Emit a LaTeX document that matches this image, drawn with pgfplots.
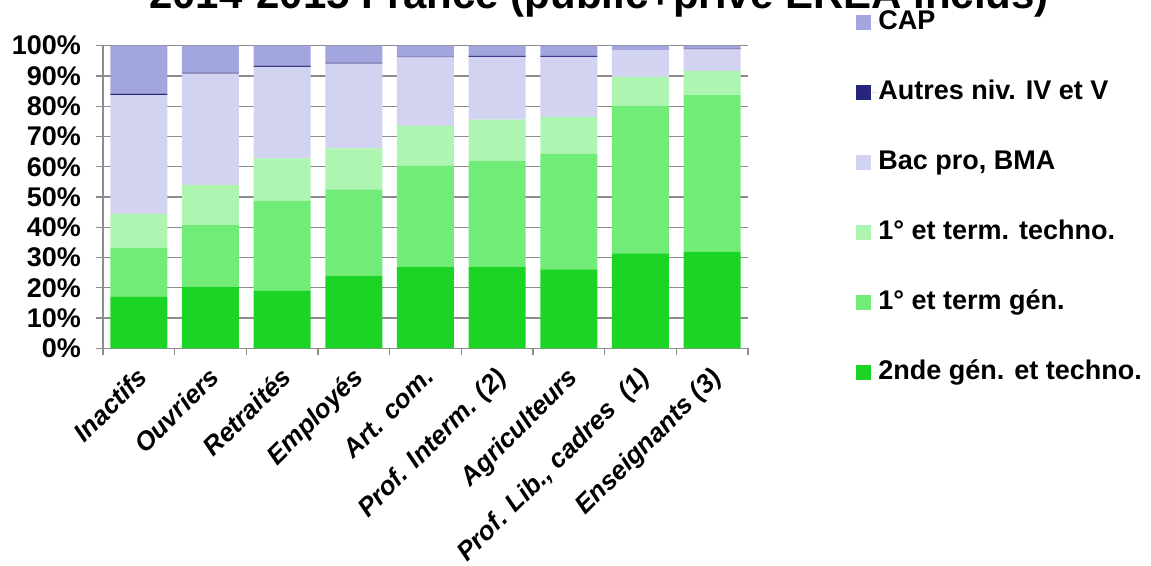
\documentclass[border=0pt]{standalone}
\usepackage{fontspec}
\setmainfont{Liberation Sans}
\usepackage{pgfplots}
\usepackage{pgfplotstable}
\pgfplotsset{compat=1.18}

\definecolor{cSec}{RGB}{28,212,38}
\definecolor{cGen}{RGB}{114,236,120}
\definecolor{cTech}{RGB}{173,245,176}
\definecolor{cBac}{RGB}{209,211,240}
\definecolor{cAutres}{RGB}{38,38,122}
\definecolor{cCap}{RGB}{163,165,223}
\definecolor{gridgray}{RGB}{140,140,140}

% parts in %, bottom to top of each bar
\pgfplotstableread{
x sec  gen  tech bac  autres cap
0 17.0 16.2 11.2 39.3 0.5 15.8
1 20.4 20.3 13.3 36.8 0.3 8.9
2 19.0 29.8 14.0 30.2 0.4 6.6
3 24.0 28.5 13.6 28.0 0.3 5.6
4 26.8 33.5 13.2 22.6 0.3 3.6
5 26.8 35.2 13.6 20.7 0.3 3.4
6 26.1 38.1 12.3 19.8 0.3 3.4
7 31.4 48.8 9.5  8.8  0.0 1.5
8 31.9 51.8 8.0  7.1  0.2 1.0
}\parts

\begin{document}
\begin{tikzpicture}
\begin{axis}[
    at={(0pt,0pt)}, anchor=south west,
    scale only axis,
    width=322.5pt, height=151.3pt,
    ybar stacked, bar width=28.5pt,
    xmin=-0.5, xmax=8.5,
    ymin=0, ymax=100,
    axis x line*=bottom, axis y line*=left,
    axis line style={draw=gridgray, line width=0.7pt, -},
    ymajorgrids,
    major grid style={draw=gridgray, line width=0.65pt},
    tick style={draw=gridgray, line width=0.7pt},
    tick align=outside,
    major tick length=3.5pt, minor tick length=3.5pt,
    xtick={0,...,8},
    major x tick style={draw=none},
    minor xtick={-0.5,0.5,...,8.5},
    xticklabels={Inactifs, Ouvriers, Retraités, Employés, Art. com.,
      Prof. Interm. (2), Agriculteurs, {Prof. Lib., cadres\ \ (1)},
      Enseignants (3)},
    x tick label style={xshift=-1.5pt, yshift=-3.5pt, rotate=45,
      anchor=north east, inner sep=1pt,
      font=\fontsize{13}{15}\selectfont\bfseries\itshape},
    ytick={0,10,...,100},
    yticklabels={0\%,10\%,20\%,30\%,40\%,50\%,60\%,70\%,80\%,90\%,100\%},
    y tick label style={xshift=-4pt, font=\fontsize{13.5}{15}\selectfont\bfseries},
    legend style={at={(axis description cs:1.1674,1.1203)}, anchor=north west,
      draw=none, fill=none, inner sep=0pt, row sep=22pt,
      font=\fontsize{13.5}{16}\selectfont\bfseries,
      nodes={inner sep=0pt, text height=10pt, text depth=3pt}},
    legend cell align=left,
    reverse legend,
    legend image code/.code={
      \fill[#1] (0pt,-3.75pt) rectangle (7.5pt,3.75pt);
      \path (0pt,0pt) -- (11pt,0pt);
    },
  ]
  \addplot[fill=cSec, draw=none] table[x=x, y=sec] {\parts};
  \addplot[fill=cGen, draw=none] table[x=x, y=gen] {\parts};
  \addplot[fill=cTech, draw=none] table[x=x, y=tech] {\parts};
  \addplot[fill=cBac, draw=none] table[x=x, y=bac] {\parts};
  \addplot[fill=cAutres, draw=none] table[x=x, y=autres] {\parts};
  \addplot[fill=cCap, draw=none] table[x=x, y=cap] {\parts};
  \legend{2nde gén. et techno., 1° et term gén., 1° et term. techno.,
    {Bac pro, BMA}, Autres niv. IV et V, CAP}
\end{axis}
\node[anchor=base, font=\fontsize{21}{25}\selectfont\bfseries]
  at (248pt,169.65pt) {2014-2015 France (public+privé EREA inclus)};
\pgfresetboundingbox
\path[use as bounding box] (-51.5pt,-108.85pt) rectangle (524pt,174.15pt);
\end{tikzpicture}
\end{document}
